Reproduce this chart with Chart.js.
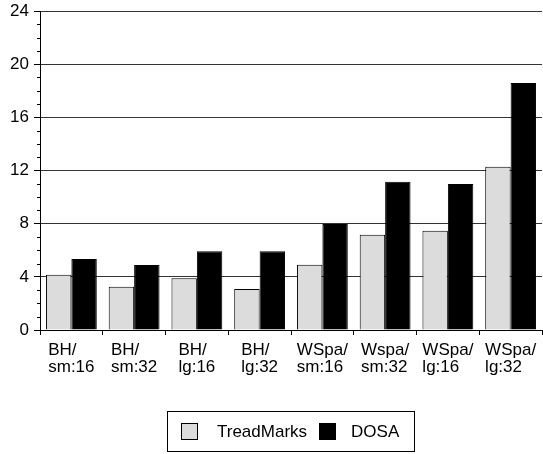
<!DOCTYPE html>
<html>
<head>
<meta charset="utf-8">
<script src="https://cdn.jsdelivr.net/npm/chart.js@4/dist/chart.umd.min.js"></script>
<style>
  html, body { margin: 0; padding: 0; background: #fff; }
  #wrap { position: relative; width: 543px; height: 454px; }
  #c { position: absolute; left: 0; top: 0; }
  #legend {
    position: absolute; left: 167px; top: 411px; width: 248px; height: 41px;
    border: 1px solid #000; box-sizing: border-box; padding-left: 13px;
    display: flex; align-items: center;
    font-family: "Liberation Sans", Arial, sans-serif; font-size: 17px; color: #000;
  }
  #legend .item { display: flex; align-items: center; }
  #legend .sw { width: 15px; height: 15px; border: 1px solid #000; }
  #legend .lbl { margin-left: 19px; }
</style>
</head>
<body>
<div id="wrap">
  <canvas id="c" width="543" height="454"></canvas>
  <div id="legend"></div>
</div>
<script>
// Benchmark/configuration names, two lines each
const categories = [
  ['BH/', 'sm:16'], ['BH/', 'sm:32'], ['BH/', 'lg:16'], ['BH/', 'lg:32'],
  ['WSpa/', 'sm:16'], ['Wspa/', 'sm:32'], ['WSpa/', 'lg:16'], ['WSpa/', 'lg:32']
];
const treadMarks = [4.16, 3.26, 3.89, 3.08, 4.91, 7.17, 7.47, 12.28];
const dosa       = [5.34, 4.89, 5.92, 5.92, 7.97, 11.15, 10.98, 18.59];
const yTicks = [0, 4, 8, 12, 16, 20, 24];

const FONT = '"Liberation Sans", Arial, sans-serif';

// Short unlabeled ticks at every integer between the major ticks
const minorTicks = {
  id: 'minorTicks',
  afterDraw(chart) {
    const y = chart.scales.y, ctx = chart.ctx;
    const x0 = chart.chartArea.left;
    ctx.save();
    ctx.strokeStyle = '#000';
    ctx.lineWidth = 1;
    for (let v = yTicks[0]; v <= yTicks[yTicks.length - 1]; v++) {
      if (yTicks.includes(v)) continue;
      const py = Math.round(y.getPixelForValue(v)) + 0.5;
      ctx.beginPath();
      ctx.moveTo(x0 - 3, py);
      ctx.lineTo(x0, py);
      ctx.stroke();
    }
    ctx.restore();
  }
};

// Two-line category labels, lines left-aligned inside a block centred on the category
const categoryLabels = {
  id: 'categoryLabels',
  afterDraw(chart) {
    const xs = chart.scales.x, ctx = chart.ctx;
    const base = chart.chartArea.bottom;
    ctx.save();
    ctx.font = '17px ' + FONT;
    ctx.fillStyle = '#000';
    ctx.textAlign = 'left';
    ctx.textBaseline = 'alphabetic';
    categories.forEach((lines, i) => {
      const cx = xs.getPixelForValue(i);
      const w = Math.max(...lines.map(l => ctx.measureText(l).width));
      const left = cx - w / 2;
      lines.forEach((l, j) => ctx.fillText(l, left, base + 25 + j * 17));
    });
    ctx.restore();
  }
};

const chart = new Chart(document.getElementById('c'), {
  type: 'bar',
  data: {
    labels: categories.map(c => c.join(' ')),
    datasets: [
      { label: 'TreadMarks', data: treadMarks, backgroundColor: '#dcdcdc',
        borderColor: '#000', borderWidth: 1, barPercentage: 1.0, categoryPercentage: 0.81 },
      { label: 'DOSA', data: dosa, backgroundColor: '#000',
        borderColor: '#000', borderWidth: 1, barPercentage: 1.0, categoryPercentage: 0.81 }
    ]
  },
  options: {
    responsive: false,
    animation: false,
    layout: { padding: { top: 11, right: 1, left: 0, bottom: 0 } },
    plugins: { legend: { display: false }, tooltip: { enabled: false } },
    scales: {
      x: {
        offset: true,
        grid: { offset: true, drawOnChartArea: false, drawTicks: true, tickLength: 5, color: '#000' },
        border: { display: true, color: '#000', width: 1 },
        ticks: { display: false },
        afterFit(s) { s.height = 124; s.paddingLeft = 0; s.paddingRight = 0; }
      },
      y: {
        min: 0, max: 24,
        afterBuildTicks(s) { s.ticks = yTicks.map(v => ({ value: v })); },
        grid: { color: '#333', lineWidth: 1, tickLength: 6, tickColor: '#000' },
        border: { display: true, color: '#000', width: 1 },
        ticks: { font: { family: FONT, size: 17 }, color: '#000', padding: 5 },
        afterFit(s) { s.width = 40; s.paddingTop = 0; s.paddingBottom = 0; }
      }
    }
  },
  plugins: [minorTicks, categoryLabels]
});

// Legend built from the chart's datasets
const legend = document.getElementById('legend');
chart.data.datasets.forEach((ds, i) => {
  const item = document.createElement('div');
  item.className = 'item';
  if (i > 0) item.style.marginLeft = '12px';
  const sw = document.createElement('div');
  sw.className = 'sw';
  sw.style.background = ds.backgroundColor;
  const lbl = document.createElement('span');
  lbl.className = 'lbl';
  if (i > 0) lbl.style.marginLeft = '15px';
  lbl.textContent = ds.label;
  item.appendChild(sw);
  item.appendChild(lbl);
  legend.appendChild(item);
});
</script>
</body>
</html>
